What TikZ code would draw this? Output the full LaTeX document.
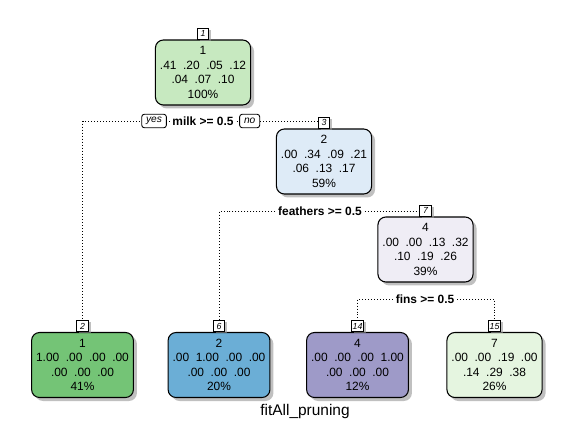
\documentclass[tikz,border=0pt]{standalone}
\usepackage{fontspec}
\setmainfont{Liberation Sans}
\usetikzlibrary{shadows,positioning,backgrounds}
\definecolor{grn1}{RGB}{199,233,192}
\definecolor{grn2}{RGB}{116,196,118}
\definecolor{grn3}{RGB}{229,245,224}
\definecolor{blu1}{RGB}{222,235,247}
\definecolor{blu2}{RGB}{107,174,214}
\definecolor{pur1}{RGB}{239,237,245}
\definecolor{pur2}{RGB}{158,154,200}
\definecolor{shdclr}{RGB}{150,150,150}
\newcommand{\gp}{\hspace{0.55em}}
\tikzset{
  tnode/.style={rectangle,rounded corners=4.5pt,draw=black,line width=0.6pt,fill=#1,
    minimum height=1.3cm,inner xsep=0.09cm,align=center,
    font=\fontsize{6.8}{8.3}\selectfont,
    drop shadow={shadow xshift=0.07cm,shadow yshift=-0.07cm,fill=shdclr,opacity=0.6}},
  ntag/.style={rectangle,draw=black,line width=0.5pt,fill=white,
    minimum width=0.23cm,minimum height=0.22cm,inner sep=0.5pt,
    font=\fontsize{5}{5}\selectfont\itshape,
    drop shadow={shadow xshift=0.05cm,shadow yshift=-0.03cm,fill=shdclr,opacity=0.6}},
  yesno/.style={rectangle,rounded corners=1.5pt,draw=black,line width=0.5pt,fill=white,
    minimum height=0.27cm,inner xsep=2.5pt,inner ysep=0.5pt,
    font=\fontsize{5.8}{5.8}\selectfont\itshape},
  splt/.style={fill=white,inner xsep=1.5pt,inner ysep=0.5pt,
    font=\fontsize{6.8}{6.8}\selectfont\bfseries},
  edg/.style={line width=0.5pt,dash pattern=on 0.5pt off 1.2pt},
}
\begin{document}
\begin{tikzpicture}[x=0.02cm,y=-0.02cm]
  \useasboundingbox (0,0) rectangle (574,426);

  % inner nodes
  \node[tnode=grn1] (n1) at (203,72.5) {1\\.41\gp.20\gp.05\gp.12\\.04\gp.07\gp.10\\100\%};
  \node[tnode=blu1] (n3) at (324,161.5) {2\\.00\gp.34\gp.09\gp.21\\.06\gp.13\gp.17\\59\%};
  \node[tnode=pur1] (n7) at (425.5,249.5) {4\\.00\gp.00\gp.13\gp.32\\.10\gp.19\gp.26\\39\%};

  % leaves
  \node[tnode=grn2] (n2)  at (82.5,365)  {1\\1.00\gp.00\gp.00\gp.00\\.00\gp.00\gp.00\\41\%};
  \node[tnode=blu2] (n6)  at (219,365)   {2\\.00\gp1.00\gp.00\gp.00\\.00\gp.00\gp.00\\20\%};
  \node[tnode=pur2] (n14) at (357.5,365) {4\\.00\gp.00\gp.00\gp1.00\\.00\gp.00\gp.00\\12\%};
  \node[tnode=grn3] (n15) at (494.5,365) {7\\.00\gp.00\gp.19\gp.00\\.14\gp.29\gp.38\\26\%};

  % node numbers
  \foreach \n/\k in {n1/1,n3/3,n7/7,n2/2,n6/6,n14/14,n15/15}
    \node[ntag,above=0pt of \n] (t\k) {\k};

  % split labels
  \node[splt] (s1) at (203,121) {milk >= 0.5};
  \node[yesno,left=1.5pt of s1]  (yes) {yes};
  \node[yesno,right=1.5pt of s1] (no)  {no};
  \node[splt] (s3) at (320,211) {feathers >= 0.5};
  \node[splt] (s7) at (425,299) {fins >= 0.5};

  \node[font=\fontsize{8.8}{8.8}\selectfont] (ttl) at (305,411) {fitAll\_pruning};

  \begin{scope}[on background layer]
    \draw[edg] (s1) -| (t2.north);
    \draw[edg] (s1) -| (t3.north);
    \draw[edg] (s3) -| (t6.north);
    \draw[edg] (s3) -| (t7.north);
    \draw[edg] (s7) -| (t14.north);
    \draw[edg] (s7) -| (t15.north);
  \end{scope}
\end{tikzpicture}
\end{document}
